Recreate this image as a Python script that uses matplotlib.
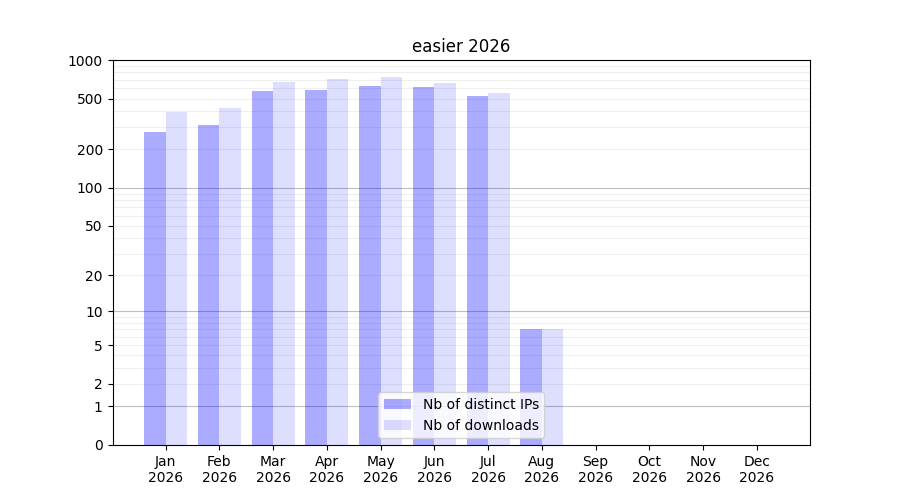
import numpy as np
import matplotlib
matplotlib.use('Agg')
import matplotlib.pyplot as plt

months = ['Jan', 'Feb', 'Mar', 'Apr', 'May', 'Jun', 'Jul', 'Aug', 'Sep', 'Oct', 'Nov', 'Dec']
year = 2026
distinct_ips = [273, 310, 572, 582, 626, 615, 522, 7, 0, 0, 0, 0]
downloads = [391, 421, 672, 710, 736, 660, 551, 7, 0, 0, 0, 0]
ytick_vals = [0, 1, 2, 5, 10, 20, 50, 100, 200, 500, 1000]

fig, ax = plt.subplots(figsize=(9, 5), dpi=100)

x = np.arange(len(months))
ax.set_yscale('function', functions=(lambda v: np.log10(1 + np.maximum(v, 0)),
                                     lambda v: 10 ** v - 1))

# grid: darker on decades, light on the rest
for k in [1, 10, 100]:
    ax.axhline(k, color='gray', lw=0.8, alpha=0.5, zorder=0)
    for m in range(2, 10):
        ax.axhline(k * m, color='gray', lw=0.8, alpha=0.12, zorder=0)

ax.bar(x - 0.2, distinct_ips, width=0.4, color='blue', alpha=0.33, label='Nb of distinct IPs', zorder=2)
ax.bar(x + 0.2, downloads, width=0.4, color='blue', alpha=0.13, label='Nb of downloads', zorder=2)

ax.set_ylim(0, 1000)
ax.set_yticks(ytick_vals)
ax.set_yticklabels([str(v) for v in ytick_vals])
ax.minorticks_off()
ax.set_xticks(x)
ax.set_xticklabels([f'{m}\n{year}' for m in months])
ax.set_title(f'easier {year}')
ax.legend(loc='lower center')

plt.savefig('out.png')
